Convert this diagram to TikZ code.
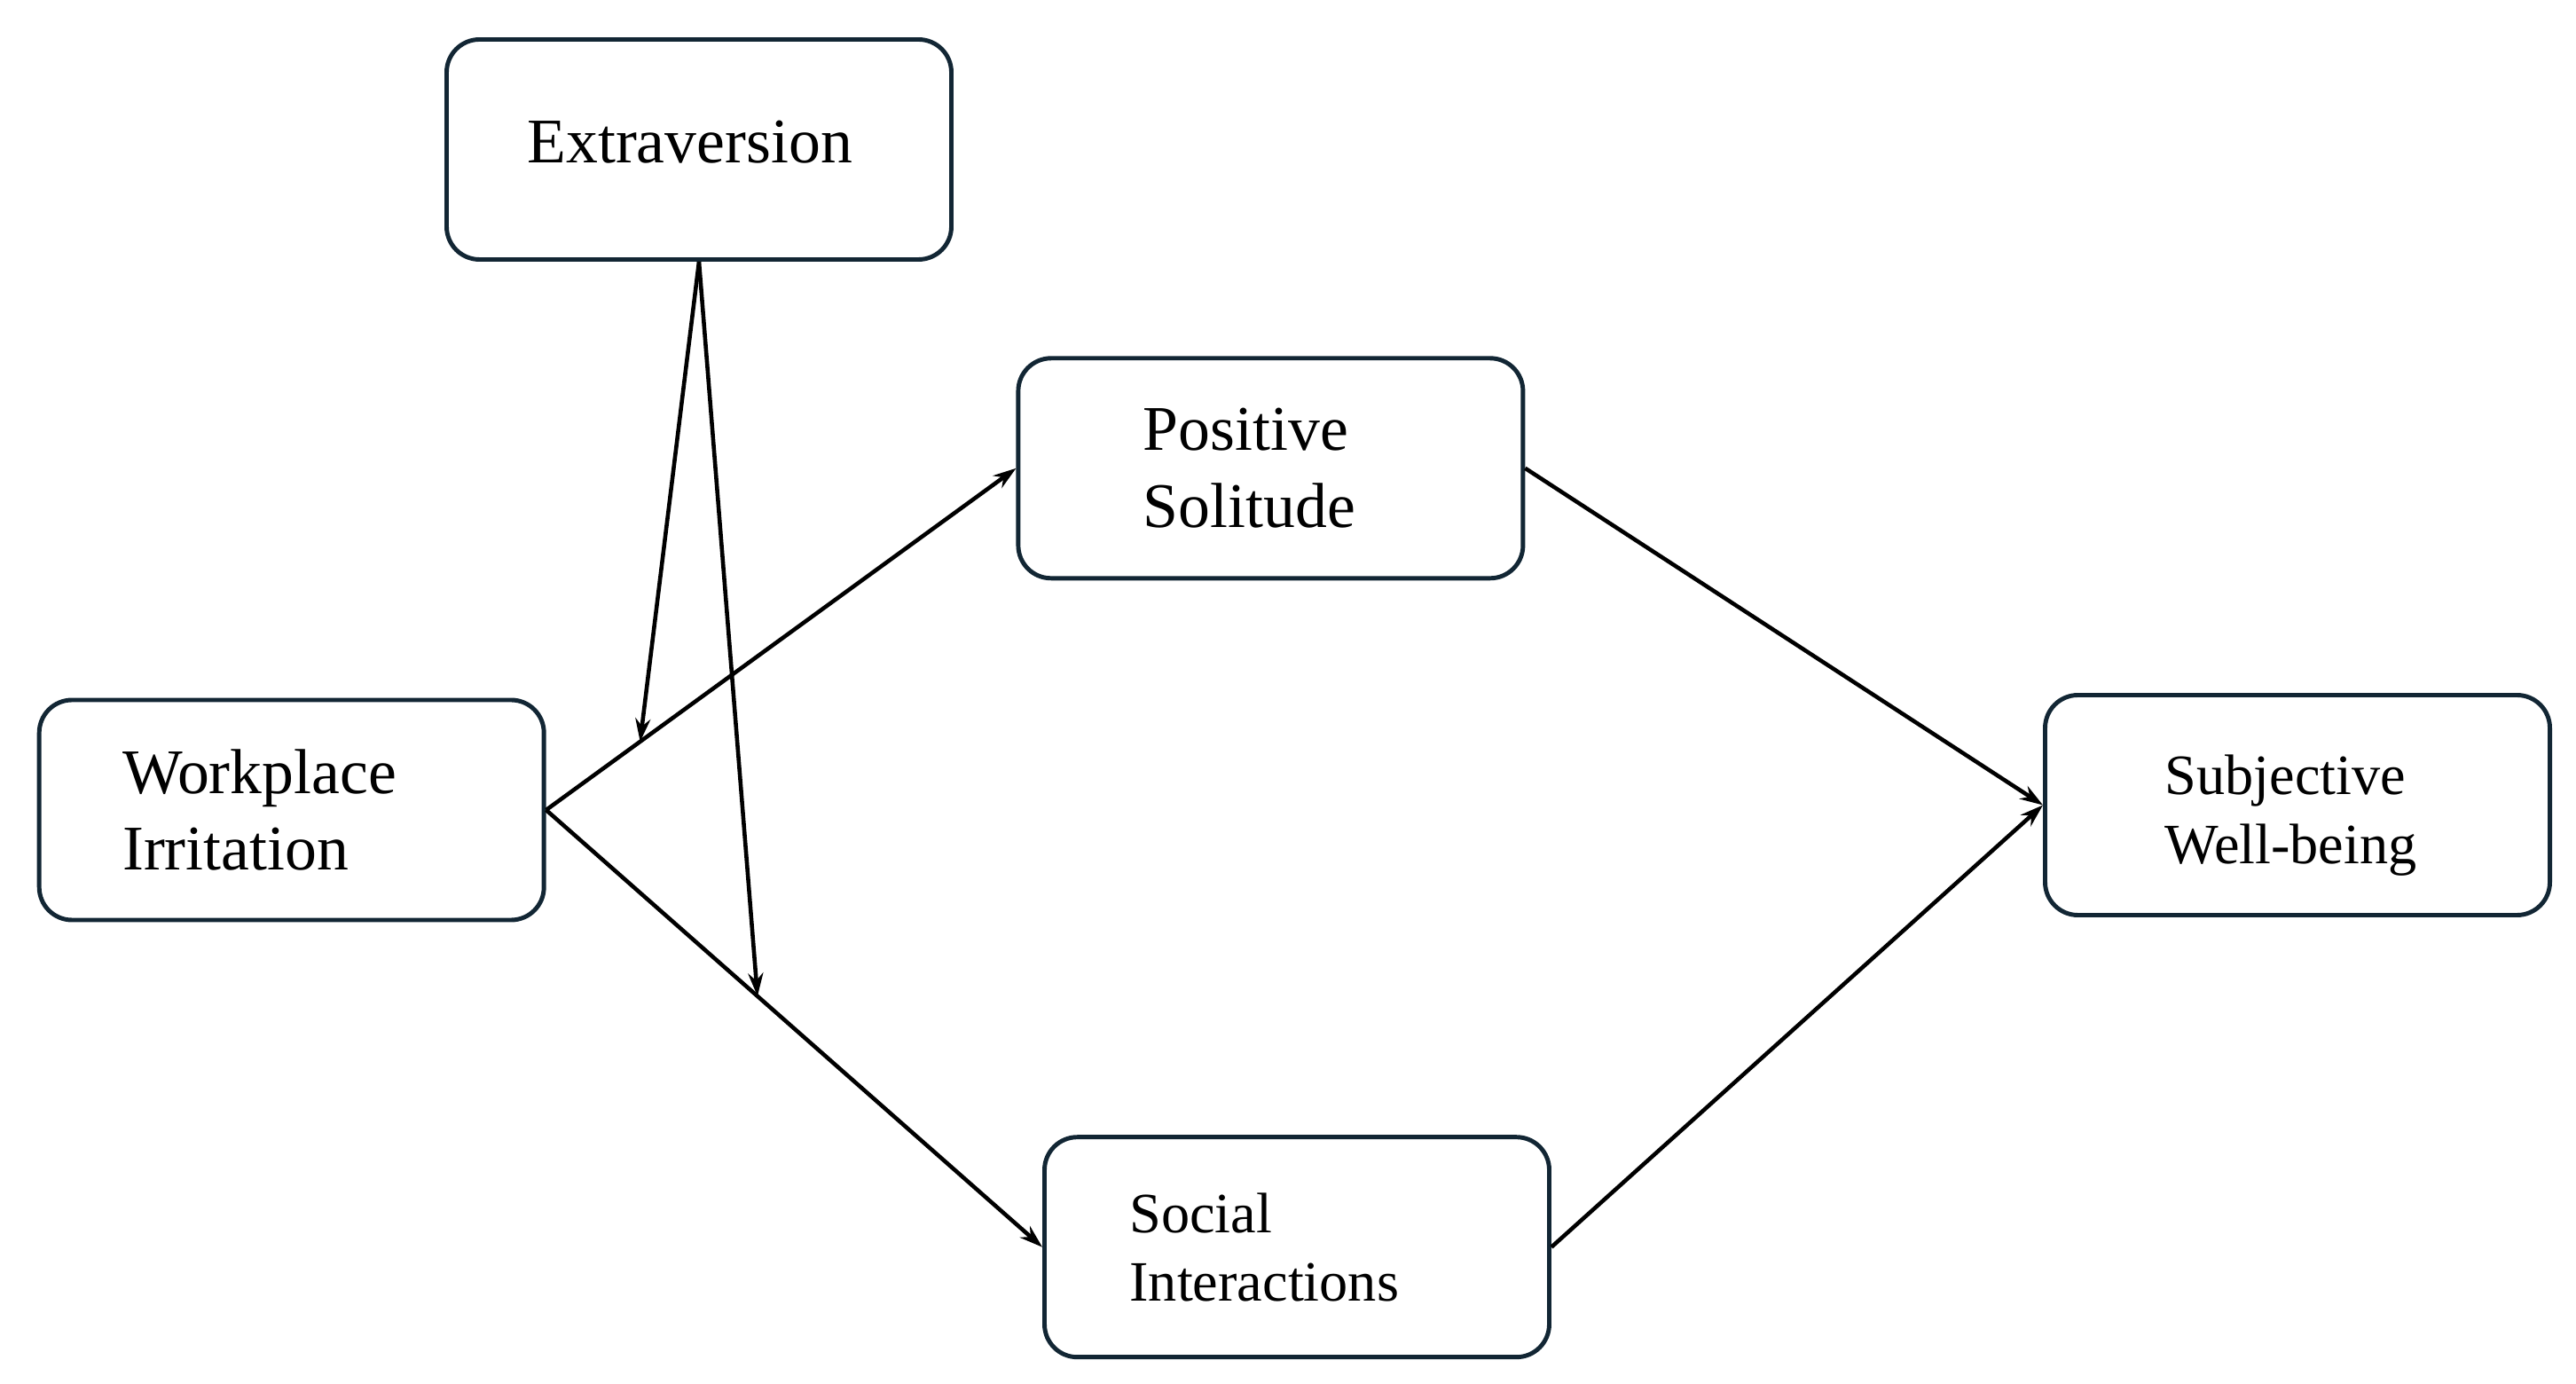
\documentclass[tikz,border=0pt]{standalone}
\usepackage{fontspec}
\setmainfont{Liberation Serif}
\usetikzlibrary{arrows.meta}
\definecolor{boxline}{RGB}{18,38,52}
\tikzset{
	box/.style={draw=boxline, line width=1.4pt, rounded corners=0.37cm, fill=white,
		minimum height=2.48cm, align=left, inner ysep=0pt},
	big/.style={font=\fontsize{20.4}{24.6}\selectfont},
	small/.style={font=\fontsize{18.3}{22}\selectfont},
	path/.style={line width=1.3pt, -{Stealth[length=0.26cm,width=0.17cm]}}
}

\begin{document}
\begin{tikzpicture}
		%%%%% START %%%%%
		\useasboundingbox (0, 0) rectangle (29.04, -15.60);
		
		\node[box, big, inner xsep=0.91cm, text width=3.87cm, text depth=0.18cm] (extra) at (7.88, -1.685) {Extraversion};
		\node[box, big, inner xsep=0.94cm, text width=3.81cm] (irrit) at (3.287, -9.13) {Workplace\\Irritation};
		\node[box, big, inner xsep=1.41cm, text width=2.87cm] (solit) at (14.324, -5.278) {Positive\\Solitude};
		\node[box, small, inner xsep=1.35cm, text width=2.99cm] (wellb) at (25.90, -9.075) {\rule{0pt}{0.68cm}Subjective\\Well-being};
		\node[box, small, inner xsep=0.96cm, text width=3.77cm] (social) at (14.62, -14.057) {Social\\Interactions};
		
		\draw[path] (irrit.east) -- coordinate[pos=0.2] (modA) (solit.west);
		\draw[path] (irrit.east) -- coordinate[pos=0.426] (modB) (social.west);
		
		\draw[path] (solit.east) -- (wellb.west);
		\draw[path] (social.east) -- (wellb.west);
		
		\draw[path] (extra.south) -- (modA);
		\draw[path] (extra.south) -- (modB);
		
		%%%%% END %%%%%
	\end{tikzpicture}
\end{document}
